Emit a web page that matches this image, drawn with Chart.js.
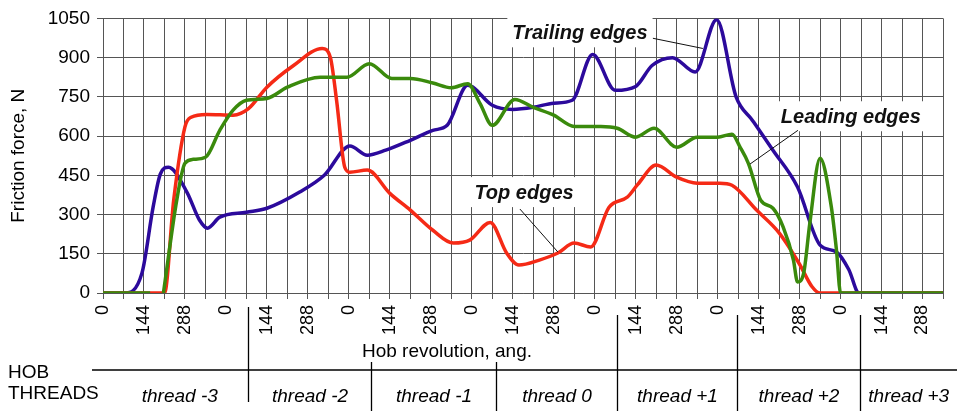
<!DOCTYPE html>
<html>
<head>
<meta charset="utf-8">
<script src="https://cdn.jsdelivr.net/npm/chart.js@4.4.1/dist/chart.umd.min.js"></script>
<style>
  body { margin: 0; background: #fff; }
  #chart { display: block; }
</style>
</head>
<body>
<canvas id="chart" width="957" height="411"></canvas>
<script>
// x is measured in grid steps (one step = 72 deg of hob revolution), 0..41
const xTickLabels = [
  '0','','144','','288','', '0','','144','','288','', '0','','144','','288','',
  '0','','144','','288','', '0','','144','','288','', '0','','144','','288','',
  '0','','144','','288',''
];

const trailingX = [0, 1.05, 1.9, 2.45, 2.8, 3.2, 4.1, 4.7, 5.1, 5.7, 7.0, 8.0, 9.6, 10.8, 12.05, 12.9, 13.8, 15.0, 16.1, 16.8,
  17.8, 19.0, 20.0, 21.0, 22.0, 22.9, 23.9, 25.0, 26.0, 26.8, 27.8, 28.9, 29.95, 30.9, 31.7, 32.7, 33.9, 35.0, 35.8, 36.4, 36.9, 41];
const trailingY = [0, 0, 76, 330, 455, 481, 385, 280, 248, 290, 309, 324, 386, 450, 562, 527, 546, 584, 622, 641,
  794, 718, 702, 710, 726, 737, 912, 775, 790, 870, 900, 845, 1045, 750, 660, 546, 405, 183, 157, 90, 0, 0];

const topX = [0, 3.0, 3.45, 4.0, 4.3, 5.07, 6.35, 7.1, 8.0, 9.3, 10.7, 11.1, 11.4, 11.8, 12.05, 12.9, 14.0, 15.0, 16.1, 17.1,
  17.9, 18.9, 19.7, 20.3, 21.3, 22.2, 23.0, 23.8, 24.7, 25.6, 26.1, 27.0, 28.0, 29.0, 30.1, 30.7, 31.9, 33.0, 34.0, 34.6, 35.0, 41];
const topY = [0, 0, 355, 635, 672, 683, 680, 705, 787, 870, 935, 900, 737, 481, 462, 470, 381, 317, 240, 191,
  202, 270, 153, 107, 126, 153, 191, 176, 328, 367, 415, 489, 443, 420, 420, 412, 317, 230, 110, 25, 0, 0];

const leadingX = [0, 2.3, 2.6, 2.95, 3.6, 4.0, 4.4, 5.0, 5.7, 6.35, 7.0, 8.0, 9.0, 10.6, 11.9, 13.0, 14.1, 15.0, 16.1, 17.0,
  17.8, 18.4, 19.0, 20.1, 21.0, 22.0, 23.0, 24.3, 25.1, 26.0, 26.9, 28.0, 29.0, 30.0, 30.7, 31.1, 31.5, 32.1, 32.7, 33.2,
  33.7, 33.9, 34.2, 34.5, 35.0, 35.55, 35.8, 36.0, 41];
const leadingY = [0, 0, null, 0, 355, 496, 511, 519, 622, 699, 737, 744, 787, 825, 825, 877, 820, 820, 803, 785,
  800, 725, 641, 740, 710, 680, 637, 637, 630, 596, 630, 557, 596, 596, 607, 557, 496, 355, 324, 252,
  126, 42, 76, 267, 515, 329, 164, 0, 0];

const threadNames = ['thread -3', 'thread -2', 'thread -1', 'thread 0', 'thread +1', 'thread +2', 'thread +3'];
const threadBounds = [7.08, 13.08, 19.18, 25.08, 30.94, 36.94];

// callout labels: text centre and leader line, in data units
const callouts = [
  {text: 'Trailing edges', x: 23.28, y: 993, from: [26.84, 974], to: [29.28, 935]},
  {text: 'Top edges', x: 20.55, y: 382, from: [20.35, 321], to: [22.2, 157]},
  {text: 'Leading edges', x: 36.5, y: 672, from: [33.92, 622], to: [31.58, 493]}
];

const FONT = "'Liberation Sans', Arial, sans-serif";
Chart.defaults.font.family = FONT;
Chart.defaults.color = '#000';

const toPoints = (xs, ys) => xs.map((x, i) => ({x: x, y: ys[i]}));

const extras = {
  id: 'extras',
  beforeDatasetsDraw(chart) {
    const ctx = chart.ctx, xs = chart.scales.x, ys = chart.scales.y;
    ctx.save();
    ctx.font = 'italic bold 20px ' + FONT;
    ctx.fillStyle = '#fff';
    callouts.forEach(c => {
      const w = ctx.measureText(c.text).width;
      const cx = xs.getPixelForValue(c.x), cy = ys.getPixelForValue(c.y);
      ctx.fillRect(cx - w / 2 - 5, cy - 16, w + 10, 30);
    });
    ctx.restore();
  },
  afterDraw(chart) {
    const ctx = chart.ctx, xs = chart.scales.x, ys = chart.scales.y;
    const area = chart.chartArea;
    ctx.save();
    // callouts
    ctx.font = 'italic bold 20px ' + FONT;
    ctx.textAlign = 'center';
    ctx.textBaseline = 'middle';
    ctx.fillStyle = '#111';
    ctx.strokeStyle = '#111';
    ctx.lineWidth = 1;
    callouts.forEach(c => {
      ctx.fillText(c.text, xs.getPixelForValue(c.x), ys.getPixelForValue(c.y));
      ctx.beginPath();
      ctx.moveTo(xs.getPixelForValue(c.from[0]), ys.getPixelForValue(c.from[1]));
      ctx.lineTo(xs.getPixelForValue(c.to[0]), ys.getPixelForValue(c.to[1]));
      ctx.stroke();
    });

    // axis title
    ctx.font = '19px ' + FONT;
    ctx.fillStyle = '#000';
    ctx.fillText('Hob revolution, ang.', 447, 352);

    // thread table
    ctx.strokeStyle = '#000';
    ctx.lineWidth = 1.3;
    ctx.beginPath();
    ctx.moveTo(92, 370);
    ctx.lineTo(chart.width, 370);
    const tops = [307, 362, 362, 315, 315, 315];
    const bottoms = [402, 411, 411, 411, 411, 411];
    const edges = [area.left];
    threadBounds.forEach((b, i) => {
      const px = Math.round(xs.getPixelForValue(b)) + 0.5;
      edges.push(px);
      ctx.moveTo(px, tops[i]);
      ctx.lineTo(px, bottoms[i]);
    });
    edges.push(chart.width);
    ctx.stroke();

    ctx.textAlign = 'left';
    ctx.fillText('HOB', 8, 373);
    ctx.fillText('THREADS', 8, 394);
    ctx.font = 'italic 19px ' + FONT;
    ctx.textAlign = 'center';
    threadNames.forEach((name, i) => {
      ctx.fillText(name, (edges[i] + edges[i + 1]) / 2 + (i === 0 ? 4 : 0), 397);
    });
    ctx.restore();
  }
};

new Chart(document.getElementById('chart'), {
  type: 'line',
  data: {
    datasets: [
      {label: 'Leading edges', data: toPoints(leadingX, leadingY), borderColor: '#3a8a0c'},
      {label: 'Top edges', data: toPoints(topX, topY), borderColor: '#f52a16'},
      {label: 'Trailing edges', data: toPoints(trailingX, trailingY), borderColor: '#2c0a9c'}
    ]
  },
  options: {
    responsive: false,
    animation: false,
    devicePixelRatio: 1,
    layout: {padding: {top: 18, right: 14, left: 0, bottom: 0}},
    elements: {
      point: {radius: 0},
      line: {borderWidth: 3.5, cubicInterpolationMode: 'monotone', fill: false}
    },
    plugins: {legend: {display: false}, tooltip: {enabled: false}},
    scales: {
      x: {
        type: 'linear', min: 0, max: 41,
        ticks: {
          stepSize: 1, autoSkip: false, maxRotation: 90, minRotation: 90,
          padding: 6, font: {size: 18}, color: '#000',
          callback: (v) => xTickLabels[Math.round(v)] || ''
        },
        grid: {color: '#555', lineWidth: 1, tickLength: 6},
        border: {color: '#555'},
        afterFit: (s) => { s.height = 118; s.paddingLeft = 0; s.paddingRight = 0; }
      },
      y: {
        min: 0, max: 1050,
        ticks: {stepSize: 150, padding: 7, font: {size: 19}, color: '#000', callback: (v) => String(v)},
        grid: {color: '#555', lineWidth: 1, tickLength: 6},
        border: {color: '#555'},
        title: {display: true, text: 'Friction force, N', font: {size: 19}, color: '#000', padding: {top: 7, bottom: 4}},
        afterFit: (s) => { s.width = 103; }
      }
    }
  },
  plugins: [extras]
});
</script>
</body>
</html>
